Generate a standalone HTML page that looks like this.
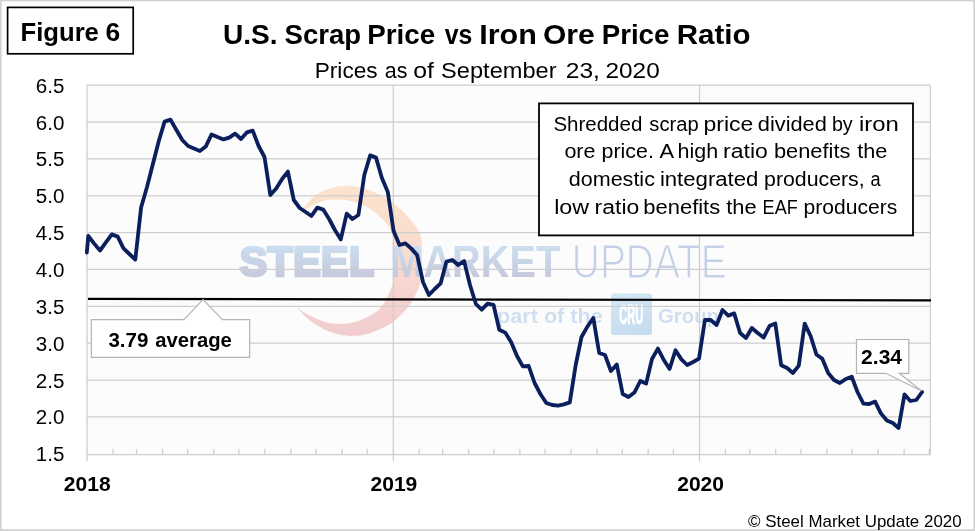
<!DOCTYPE html>
<html lang="en">
<head>
<meta charset="utf-8">
<title>U.S. Scrap Price vs Iron Ore Price Ratio</title>
<style>
html,body{margin:0;padding:0;background:#fff;}
body{width:975px;height:531px;overflow:hidden;}
svg{display:block;font-family:"Liberation Sans",sans-serif;}
.b{font-weight:bold;}
</style>
</head>
<body>
<svg width="975" height="531" viewBox="0 0 975 531">
<defs>
<linearGradient id="gs" x1="0" y1="0" x2="0" y2="1"><stop offset="0" stop-color="#fce3cd"/><stop offset="0.5" stop-color="#f9dad0"/><stop offset="1" stop-color="#f1cdcf"/></linearGradient>
<linearGradient id="gt" gradientUnits="userSpaceOnUse" x1="0" y1="246" x2="0" y2="278"><stop offset="0" stop-color="#cbdeef"/><stop offset="1" stop-color="#c6c8dd"/></linearGradient>
<linearGradient id="gc" x1="0" y1="0" x2="0.3" y2="1"><stop offset="0" stop-color="#d1e9f5"/><stop offset="1" stop-color="#c8dcef"/></linearGradient>
<linearGradient id="gp" x1="0" y1="0" x2="0" y2="1"><stop offset="0" stop-color="#fefefe"/><stop offset="1" stop-color="#f7f7f7"/></linearGradient>
<clipPath id="cp"><rect x="85" y="85" width="845.4" height="369.6"/></clipPath>
</defs>
<rect x="0" y="0" width="975" height="531" fill="#fff"/>
<rect x="0.75" y="0.5" width="973.5" height="529.5" fill="none" stroke="#d0d0d0" stroke-width="1.7"/>
<rect x="87" y="85.2" width="843.4" height="369.4" fill="#fcfcfc"/>
<g id="wm">
<path d="M297.3 216.2C298.6 214.5 301.9 209.3 305.0 205.8C308.1 202.3 311.5 198.0 315.8 195.0C320.1 192.0 325.9 189.5 331.0 188.0C336.1 186.5 341.3 185.8 346.5 185.8C351.7 185.8 356.9 186.7 362.0 188.0C367.1 189.3 372.2 191.1 377.3 193.5C382.4 195.9 388.1 199.4 392.7 202.7C397.3 206.0 401.4 209.9 405.0 213.5C408.6 217.1 411.4 220.4 414.0 224.0C416.6 227.6 419.1 231.2 420.4 235.0C421.7 238.8 421.6 242.5 421.8 247.0C422.0 251.5 421.9 256.8 421.8 262.0C421.7 267.2 421.5 273.7 421.0 278.0C420.5 282.3 420.2 284.0 418.8 287.7C417.4 291.4 415.0 296.1 412.7 300.0C410.4 303.9 408.3 307.1 405.0 310.8C401.7 314.5 396.8 319.3 392.7 322.3C388.6 325.3 385.0 326.9 380.4 329.0C375.8 331.1 369.9 333.4 365.0 334.6C360.1 335.8 355.4 336.0 351.0 336.0C346.6 336.0 343.4 335.8 338.8 334.6C334.2 333.4 328.6 331.6 323.5 329.0C318.4 326.4 312.5 322.7 308.0 319.0C303.5 315.3 298.4 309.0 296.5 307.0L296.5 307.0C298.4 308.3 303.5 312.2 308.0 314.6C312.5 317.0 318.6 320.0 323.5 321.5C328.4 323.0 332.2 323.7 337.3 323.8C342.4 323.9 348.6 323.6 354.0 322.3C359.4 321.0 365.2 318.4 369.6 316.0C374.0 313.6 377.3 311.1 380.4 307.7C383.5 304.3 385.9 299.5 388.0 295.4C390.1 291.3 391.7 287.4 392.7 283.0C393.7 278.6 393.7 273.5 393.9 269.0C394.1 264.5 394.0 260.2 393.9 256.0C393.8 251.8 393.5 247.5 393.2 244.0C392.9 240.5 393.1 238.0 392.2 235.0C391.3 232.0 390.0 228.8 388.0 225.8C386.0 222.9 383.5 220.1 380.4 217.3C377.3 214.5 374.0 211.4 369.6 208.8C365.2 206.2 359.1 203.5 354.0 202.0C348.9 200.5 343.9 199.8 338.8 199.6C333.7 199.4 328.6 199.6 323.5 201.0C318.4 202.4 312.4 205.5 308.0 208.0C303.6 210.5 299.1 214.8 297.3 216.2Z" fill="url(#gs)"/>
<text x="239.4" y="276" font-size="42.4" class="b" fill="url(#gt)" stroke="url(#gt)" stroke-width="2.6" textLength="135" lengthAdjust="spacingAndGlyphs">STEEL</text>
<text x="390.2" y="277" font-size="45" class="b" fill="url(#gt)" textLength="170" lengthAdjust="spacingAndGlyphs">MARKET</text>
<text x="571.8" y="278.1" font-size="47.4" fill="#c4d0e5" stroke="#fcfcfc" stroke-width="1.2" textLength="155" lengthAdjust="spacingAndGlyphs">UPDATE</text>
<text x="497" y="323" font-size="20.5" class="b" fill="#cfdff0" textLength="105.8" lengthAdjust="spacingAndGlyphs">part of the</text>
<rect x="611" y="293.4" width="41" height="41.6" rx="2.5" fill="url(#gc)"/>
<text x="619.2" y="324" font-size="28" class="b" fill="#fff" stroke="#fff" stroke-width="0.9" textLength="24.2" lengthAdjust="spacingAndGlyphs">CRU</text>
<text x="658" y="323" font-size="20.5" class="b" fill="#cfdff0" textLength="61" lengthAdjust="spacingAndGlyphs">Group</text>
</g>
<g stroke="#cecece" stroke-width="1.25" fill="none">
<line x1="87" x2="930.4" y1="85.20" y2="85.20"/><line x1="87" x2="930.4" y1="122.05" y2="122.05"/><line x1="87" x2="930.4" y1="158.90" y2="158.90"/><line x1="87" x2="930.4" y1="195.75" y2="195.75"/><line x1="87" x2="930.4" y1="232.60" y2="232.60"/><line x1="87" x2="930.4" y1="269.45" y2="269.45"/><line x1="87" x2="930.4" y1="306.30" y2="306.30"/><line x1="87" x2="930.4" y1="343.15" y2="343.15"/><line x1="87" x2="930.4" y1="380.00" y2="380.00"/><line x1="87" x2="930.4" y1="416.85" y2="416.85"/>
<line x1="87" x2="87" y1="85" y2="461"/>
<line x1="393.3" x2="393.3" y1="85" y2="461"/>
<line x1="699.5" x2="699.5" y1="85" y2="461"/>
<line x1="930.4" x2="930.4" y1="85" y2="455"/>
<line x1="87" x2="930.4" y1="454.6" y2="454.6"/>
<line x1="113.0" x2="113.0" y1="449" y2="454.6"/><line x1="136.5" x2="136.5" y1="449" y2="454.6"/><line x1="162.5" x2="162.5" y1="449" y2="454.6"/><line x1="187.7" x2="187.7" y1="449" y2="454.6"/><line x1="213.7" x2="213.7" y1="449" y2="454.6"/><line x1="238.8" x2="238.8" y1="449" y2="454.6"/><line x1="264.8" x2="264.8" y1="449" y2="454.6"/><line x1="290.9" x2="290.9" y1="449" y2="454.6"/><line x1="316.0" x2="316.0" y1="449" y2="454.6"/><line x1="342.0" x2="342.0" y1="449" y2="454.6"/><line x1="367.2" x2="367.2" y1="449" y2="454.6"/><line x1="419.2" x2="419.2" y1="449" y2="454.6"/><line x1="442.7" x2="442.7" y1="449" y2="454.6"/><line x1="468.7" x2="468.7" y1="449" y2="454.6"/><line x1="493.9" x2="493.9" y1="449" y2="454.6"/><line x1="519.9" x2="519.9" y1="449" y2="454.6"/><line x1="545.0" x2="545.0" y1="449" y2="454.6"/><line x1="571.0" x2="571.0" y1="449" y2="454.6"/><line x1="597.1" x2="597.1" y1="449" y2="454.6"/><line x1="622.2" x2="622.2" y1="449" y2="454.6"/><line x1="648.2" x2="648.2" y1="449" y2="454.6"/><line x1="673.4" x2="673.4" y1="449" y2="454.6"/><line x1="725.4" x2="725.4" y1="449" y2="454.6"/><line x1="749.7" x2="749.7" y1="449" y2="454.6"/><line x1="775.7" x2="775.7" y1="449" y2="454.6"/><line x1="800.9" x2="800.9" y1="449" y2="454.6"/><line x1="826.9" x2="826.9" y1="449" y2="454.6"/><line x1="852.1" x2="852.1" y1="449" y2="454.6"/><line x1="878.1" x2="878.1" y1="449" y2="454.6"/><line x1="904.1" x2="904.1" y1="449" y2="454.6"/><line x1="929.3" x2="929.3" y1="449" y2="454.6"/>
</g>

<line x1="88" y1="298.9" x2="931" y2="300.3" stroke="#000" stroke-width="2.2"/>
<polyline clip-path="url(#cp)" points="86.8,252.5 88.3,236.0 94.2,243.6 100.0,250.6 105.9,242.4 111.8,234.4 117.7,236.6 123.5,248.4 129.4,254.0 135.3,259.6 141.1,207.5 147.0,187.0 152.9,164.0 158.8,141.0 164.6,121.6 170.5,119.6 176.4,130.0 182.3,140.0 188.1,146.0 194.0,148.6 199.9,151.0 205.7,146.6 211.6,134.4 217.5,137.0 223.4,139.4 229.2,137.6 235.1,133.6 241.0,139.0 246.8,132.4 252.7,130.6 258.6,146.0 264.5,157.0 270.3,195.0 276.2,188.5 282.1,179.0 287.9,171.6 293.8,200.0 299.7,208.0 305.6,212.0 311.4,216.0 317.3,207.6 323.2,209.6 329.1,219.0 334.9,230.0 340.8,239.4 346.7,213.6 352.5,219.0 358.4,215.0 364.3,175.0 370.2,155.4 376.0,157.6 381.9,178.0 387.8,192.0 393.6,231.0 399.5,245.0 405.4,243.4 411.3,248.6 417.1,255.0 423.0,282.0 428.9,295.0 434.7,289.0 440.6,283.4 446.5,261.6 452.4,260.0 458.2,265.0 464.1,261.0 470.0,285.0 475.9,304.0 481.7,309.7 487.6,303.7 493.5,304.8 499.3,329.8 505.2,332.6 511.1,342.0 517.0,356.0 522.8,366.4 528.7,366.0 534.6,383.0 540.4,394.0 546.3,403.0 552.2,405.0 558.1,405.6 563.9,404.4 569.8,402.4 575.7,365.0 581.5,337.0 587.4,326.6 593.3,318.0 599.2,353.0 605.0,355.0 610.9,371.0 616.8,364.6 622.7,394.0 628.5,397.0 634.4,392.6 640.3,381.0 646.1,383.6 652.0,359.0 657.9,348.6 663.8,360.0 669.6,369.0 675.5,350.3 681.4,359.4 687.2,365.0 693.1,362.0 699.0,358.6 704.9,320.0 710.7,320.0 716.6,325.0 722.5,310.0 728.3,315.6 734.2,313.4 740.1,333.0 746.0,338.0 751.8,328.0 757.7,333.0 763.6,337.6 769.5,326.0 775.3,323.4 781.2,365.2 787.1,368.0 792.9,373.0 798.8,365.6 804.7,323.6 810.6,336.0 816.4,354.4 822.3,358.8 828.2,373.0 834.0,380.0 839.9,383.0 845.8,379.0 851.7,376.8 857.5,392.0 863.4,403.6 869.3,404.0 875.1,401.6 881.0,413.6 886.9,420.4 892.8,423.0 898.6,428.0 904.5,394.4 910.4,401.0 916.3,400.0 922.1,392.0" fill="none" stroke="#0a1f5c" stroke-width="3.8" stroke-linejoin="round" stroke-linecap="round"/>
<!-- callouts -->
<path d="M91.4 319.6H184L203 299.6L222.4 319.6H249.6V357.4H91.4Z" fill="#fff" stroke="#b4b4b4" stroke-width="1.2"/>
<g font-size="20.3" class="b">
<text x="108.4" y="347" textLength="39.9" lengthAdjust="spacingAndGlyphs">3.79</text>
<text x="155.3" y="347" textLength="76.6" lengthAdjust="spacingAndGlyphs">average</text>
</g>
<path d="M856.5 339.5H908.8V373.3H899.3L921.6 391L885.9 373.3H856.5Z" fill="#fff" stroke="#b4b4b4" stroke-width="1.2"/>
<g font-size="20.3" class="b">
<text x="861.1" y="364" textLength="41.0" lengthAdjust="spacingAndGlyphs">2.34</text>
</g>
<!-- text box -->
<rect x="539" y="103.4" width="374" height="132" fill="#fff" stroke="#000" stroke-width="1.8"/>
<g font-size="20" fill="#000">
<text x="553.4" y="130.6" textLength="88.9" lengthAdjust="spacingAndGlyphs">Shredded</text>
<text x="649.3" y="130.6" textLength="49.3" lengthAdjust="spacingAndGlyphs">scrap</text>
<text x="703.5" y="130.6" textLength="49.8" lengthAdjust="spacingAndGlyphs">price</text>
<text x="757.8" y="130.6" textLength="69.0" lengthAdjust="spacingAndGlyphs">divided</text>
<text x="831.9" y="130.6" textLength="20.8" lengthAdjust="spacingAndGlyphs">by</text>
<text x="859.0" y="130.6" textLength="39.8" lengthAdjust="spacingAndGlyphs">iron</text>
<text x="564.4" y="158" textLength="31.1" lengthAdjust="spacingAndGlyphs">ore</text>
<text x="601.6" y="158" textLength="52.3" lengthAdjust="spacingAndGlyphs">price.</text>
<text x="659.6" y="158" textLength="14.6" lengthAdjust="spacingAndGlyphs">A</text>
<text x="677.5" y="158" textLength="40.6" lengthAdjust="spacingAndGlyphs">high</text>
<text x="723.0" y="158" textLength="44.8" lengthAdjust="spacingAndGlyphs">ratio</text>
<text x="773.9" y="158" textLength="76.5" lengthAdjust="spacingAndGlyphs">benefits</text>
<text x="857.2" y="158" textLength="30.1" lengthAdjust="spacingAndGlyphs">the</text>
<text x="568.8" y="185.8" textLength="86.1" lengthAdjust="spacingAndGlyphs">domestic</text>
<text x="659.9" y="185.8" textLength="98.5" lengthAdjust="spacingAndGlyphs">integrated</text>
<text x="764.1" y="185.8" textLength="100.6" lengthAdjust="spacingAndGlyphs">producers,</text>
<text x="870.5" y="185.8" textLength="10.1" lengthAdjust="spacingAndGlyphs">a</text>
<text x="554.2" y="214.2" textLength="34.9" lengthAdjust="spacingAndGlyphs">low</text>
<text x="594.6" y="214.2" textLength="44.7" lengthAdjust="spacingAndGlyphs">ratio</text>
<text x="643.3" y="214.2" textLength="76.9" lengthAdjust="spacingAndGlyphs">benefits</text>
<text x="726.2" y="214.2" textLength="30.4" lengthAdjust="spacingAndGlyphs">the</text>
<text x="762.6" y="214.2" textLength="35.1" lengthAdjust="spacingAndGlyphs">EAF</text>
<text x="803.5" y="214.2" textLength="93.7" lengthAdjust="spacingAndGlyphs">producers</text>
</g>
<!-- axis labels -->
<g font-size="19.6" fill="#000">
<text x="35.8" y="92.7" textLength="28.6" lengthAdjust="spacingAndGlyphs">6.5</text><text x="35.8" y="129.6" textLength="28.6" lengthAdjust="spacingAndGlyphs">6.0</text><text x="35.8" y="166.4" textLength="28.6" lengthAdjust="spacingAndGlyphs">5.5</text><text x="35.8" y="203.2" textLength="28.6" lengthAdjust="spacingAndGlyphs">5.0</text><text x="35.8" y="240.1" textLength="28.6" lengthAdjust="spacingAndGlyphs">4.5</text><text x="35.8" y="276.9" textLength="28.6" lengthAdjust="spacingAndGlyphs">4.0</text><text x="35.8" y="313.8" textLength="28.6" lengthAdjust="spacingAndGlyphs">3.5</text><text x="35.8" y="350.6" textLength="28.6" lengthAdjust="spacingAndGlyphs">3.0</text><text x="35.8" y="387.5" textLength="28.6" lengthAdjust="spacingAndGlyphs">2.5</text><text x="35.8" y="424.4" textLength="28.6" lengthAdjust="spacingAndGlyphs">2.0</text><text x="35.8" y="461.2" textLength="28.6" lengthAdjust="spacingAndGlyphs">1.5</text>
</g>
<g font-size="20.3" class="b" fill="#000">
<text x="63.8" y="491" textLength="46.8" lengthAdjust="spacingAndGlyphs">2018</text>
<text x="370.5" y="491" textLength="46.8" lengthAdjust="spacingAndGlyphs">2019</text>
<text x="677.2" y="491" textLength="46.8" lengthAdjust="spacingAndGlyphs">2020</text>
</g>
<!-- titles -->
<rect x="7.6" y="7.4" width="125.6" height="46.4" fill="#fff" stroke="#000" stroke-width="1.7"/>
<g font-size="26.2" class="b">
<text x="20.5" y="40.7" textLength="78.4" lengthAdjust="spacingAndGlyphs">Figure</text>
<text x="105.5" y="40.7" textLength="14.7" lengthAdjust="spacingAndGlyphs">6</text>
</g>
<g font-size="28.5" class="b">
<text x="222.9" y="44" textLength="54.6" lengthAdjust="spacingAndGlyphs">U.S.</text>
<text x="284.5" y="44" textLength="76.6" lengthAdjust="spacingAndGlyphs">Scrap</text>
<text x="367.3" y="44" textLength="67.8" lengthAdjust="spacingAndGlyphs">Price</text>
<text x="444.7" y="44" textLength="27.6" lengthAdjust="spacingAndGlyphs">vs</text>
<text x="479.2" y="44" textLength="57.7" lengthAdjust="spacingAndGlyphs">Iron</text>
<text x="543.0" y="44" textLength="51.7" lengthAdjust="spacingAndGlyphs">Ore</text>
<text x="601.7" y="44" textLength="67.7" lengthAdjust="spacingAndGlyphs">Price</text>
<text x="676.8" y="44" textLength="73.8" lengthAdjust="spacingAndGlyphs">Ratio</text>
</g>
<g font-size="21.8">
<text x="314.7" y="78" textLength="63.0" lengthAdjust="spacingAndGlyphs">Prices</text>
<text x="384.7" y="78" textLength="22.7" lengthAdjust="spacingAndGlyphs">as</text>
<text x="413.3" y="78" textLength="20.7" lengthAdjust="spacingAndGlyphs">of</text>
<text x="441.1" y="78" textLength="115.5" lengthAdjust="spacingAndGlyphs">September</text>
<text x="565.8" y="78" textLength="34.1" lengthAdjust="spacingAndGlyphs">23,</text>
<text x="605.5" y="78" textLength="54.2" lengthAdjust="spacingAndGlyphs">2020</text>
</g>
<text x="748" y="526.8" font-size="16.6" textLength="213.6" lengthAdjust="spacingAndGlyphs">© Steel Market Update 2020</text>
</svg>
</body>
</html>
